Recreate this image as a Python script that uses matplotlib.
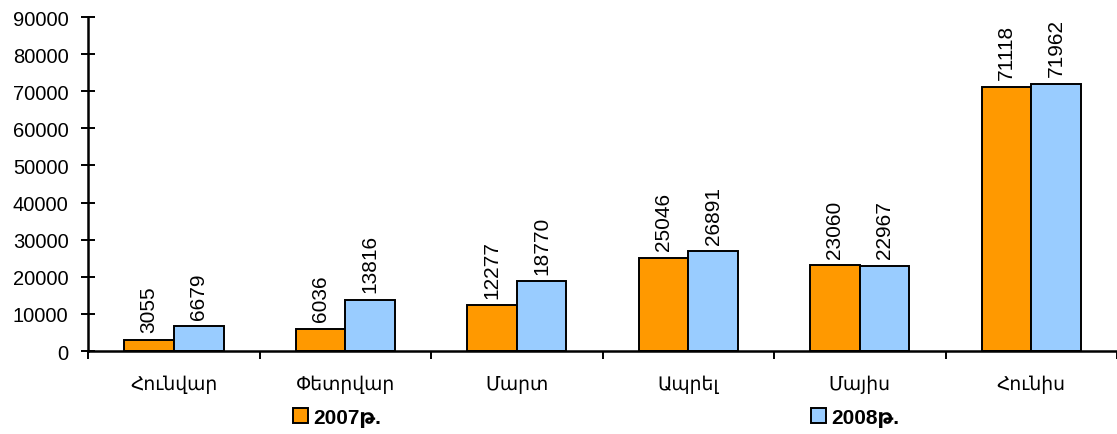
import numpy as np
import matplotlib.pyplot as plt

months = ['Հունվար', 'Փետրվար', 'Մարտ', 'Ապրել', 'Մայիս', 'Հունիս']
values_2007 = [3055, 6036, 12277, 25046, 23060, 71118]
values_2008 = [6679, 13816, 18770, 26891, 22967, 71962]
series_labels = ['2007թ.', '2008թ.']
y_ticks = [0, 10000, 20000, 30000, 40000, 50000, 60000, 70000, 80000, 90000]

plt.rcParams['font.family'] = ['Liberation Sans', 'DejaVu Sans']


def main():
    fig = plt.figure(figsize=(11.17, 4.35), dpi=100)
    ax = fig.add_axes([0.0788, 0.1908, 0.9212, 0.7678])

    x = np.arange(len(months))
    w = 0.29
    b1 = ax.bar(x - w / 2, values_2007, w, color='#FF9900', edgecolor='black',
                linewidth=1.4, label=series_labels[0])
    b2 = ax.bar(x + w / 2, values_2008, w, color='#99CCFF', edgecolor='black',
                linewidth=1.4, label=series_labels[1])

    # value labels above bars
    for bars in (b1, b2):
        for rect in bars:
            h = rect.get_height()
            ax.annotate(f'{int(h)}', (rect.get_x() + rect.get_width() / 2, h),
                        xytext=(0, 5.5), textcoords='offset points',
                        rotation=90, ha='center', va='bottom', fontsize=15)

    # axes setting
    ax.set_xlim(-0.5, len(months) - 0.5)
    ax.set_ylim(0, 90000)
    ax.set_yticks(y_ticks)
    ax.set_yticklabels([str(t) for t in y_ticks], fontsize=14.5)
    ax.set_xticks(x)
    ax.set_xticklabels(months, fontsize=13.5)
    ax.set_xticks(np.arange(-0.5, len(months), 1.0), minor=True)
    ax.tick_params(axis='x', which='major', length=0, pad=17)
    ax.tick_params(axis='x', which='minor', direction='out', length=6, width=1.4)
    ax.tick_params(axis='y', direction='inout', length=10, width=1.4, pad=9)
    for side in ('top', 'right'):
        ax.spines[side].set_visible(False)
    for side in ('left', 'bottom'):
        ax.spines[side].set_linewidth(1.8)

    fig.legend(handles=[b1, b2], loc='center', bbox_to_anchor=(0.5336, 0.038),
               ncol=2, frameon=False, columnspacing=20.6, handlelength=0.75,
               handleheight=0.75, handletextpad=0.25,
               prop={'size': 15, 'weight': 'bold'})

    fig.savefig('out.png', dpi=100)


if __name__ == "__main__":
    main()
